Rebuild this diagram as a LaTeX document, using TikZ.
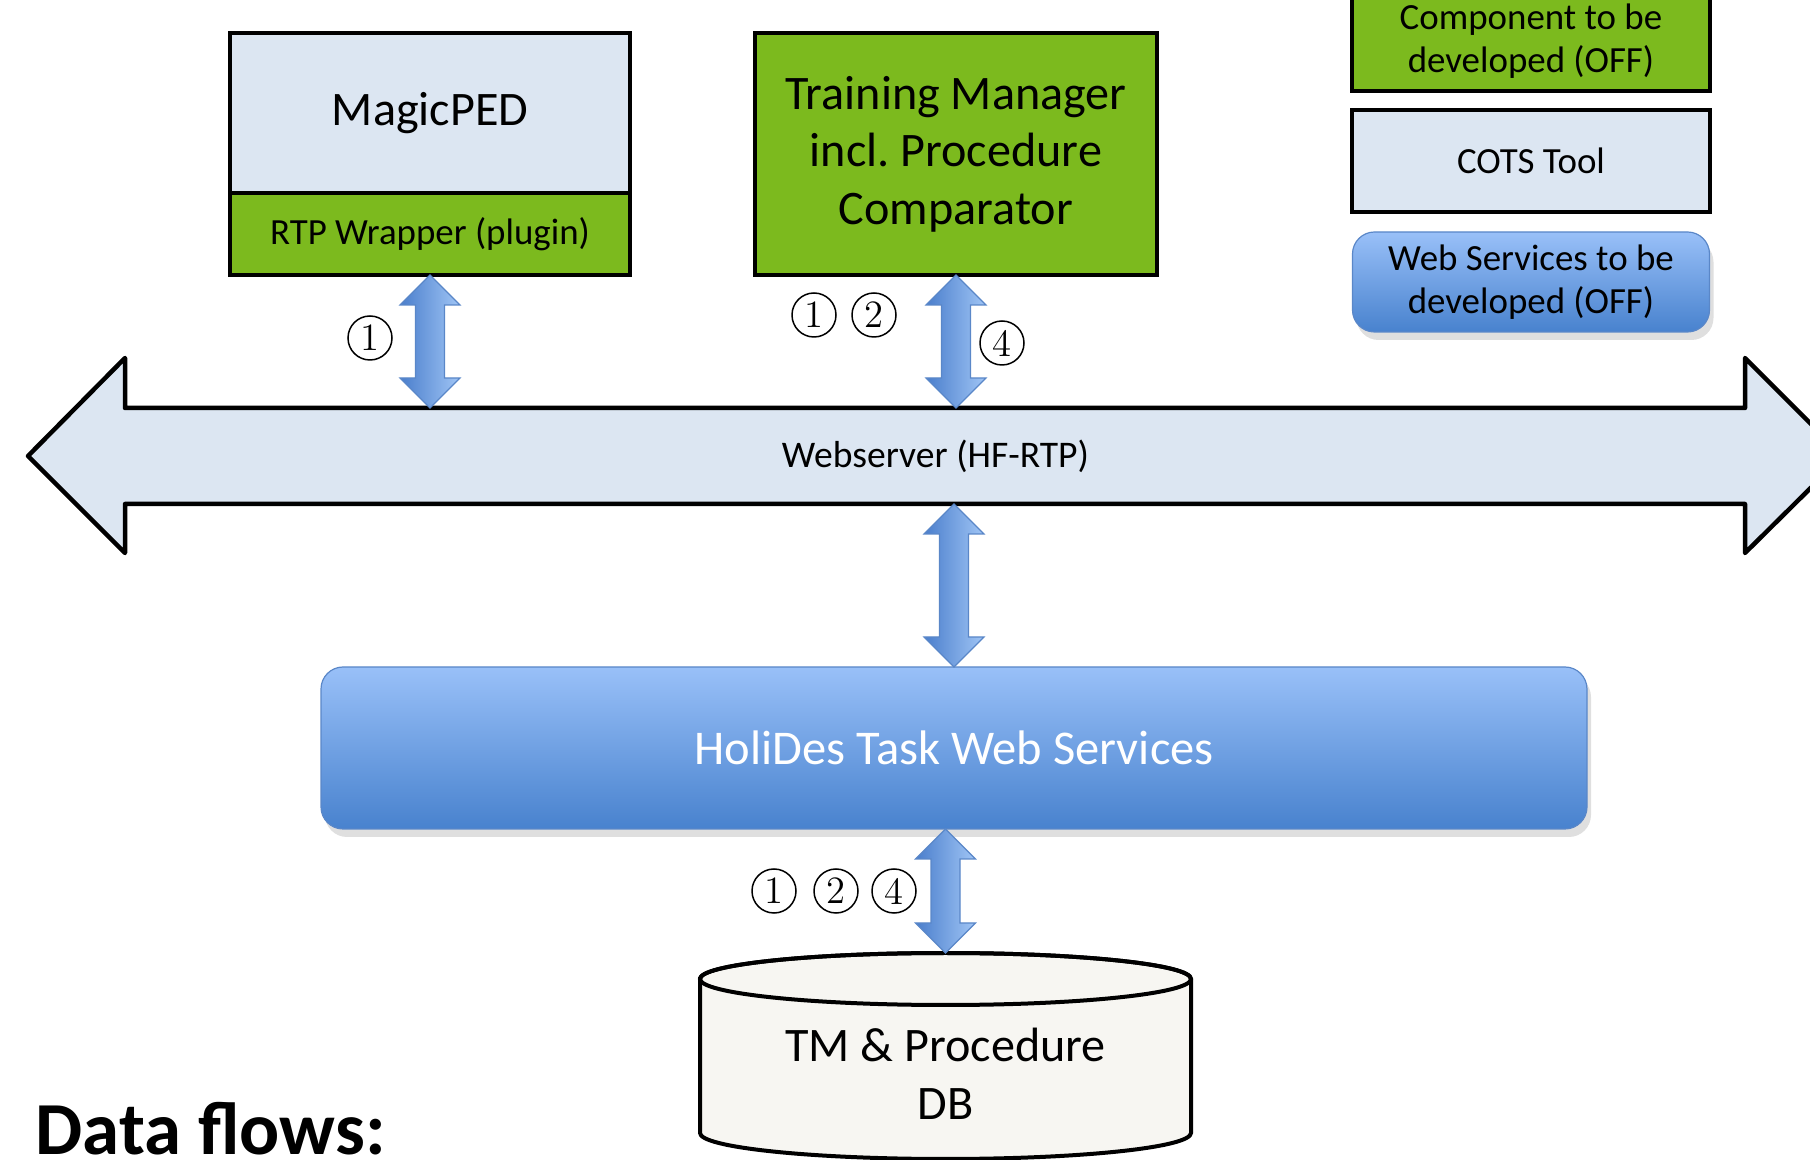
\documentclass[tikz,border=0pt]{standalone}
\usepackage{fontspec}
\newfontfamily\carl{Carlito}
\usetikzlibrary{calc, positioning, shadows}

\definecolor{cotsblue}{RGB}{220,230,242}
\definecolor{devgreen}{RGB}{124,186,30}
\definecolor{servtop}{RGB}{153,192,248}
\definecolor{servbot}{RGB}{72,130,206}
\definecolor{servline}{RGB}{90,135,200}
\definecolor{arrdark}{RGB}{74,126,204}
\definecolor{arrlight}{RGB}{160,197,245}
\definecolor{dbfill}{RGB}{247,246,242}

\newcommand{\legfont}{\carl\fontsize{10.5}{12.3}\selectfont}
\newcommand{\bigfont}{\carl\fontsize{13.7}{16.4}\selectfont}

\tikzset{
  box/.style={draw=black, line width=0.4mm, outer sep=0pt, inner sep=0pt, align=center, font=\legfont},
  cotsbox/.style={box, fill=cotsblue},
  devbox/.style={box, fill=devgreen},
  servbox/.style={rounded corners=2.2mm, top color=servtop, bottom color=servbot, draw=servline,
    line width=0.12mm, outer sep=0pt, inner sep=0pt, align=center, font=\legfont,
    drop shadow={opacity=0.25, shadow xshift=0.4mm, shadow yshift=-0.8mm}},
  flowarrow/.style={draw=servline, line width=0.12mm, left color=arrdark, right color=arrlight},
  flownum/.style={circle, draw, line width=0.15mm, minimum size=4.4mm, inner sep=0pt,
    font=\fontsize{11}{11}\selectfont},
}

% fat double arrow from #1 (top) down to #2
\newcommand{\flowarr}[2]{%
  \path[flowarrow] let \p1=(#1), \p2=(#2) in
    (\x1,\y1) -- (\x1+3mm,\y1-3mm) -- (\x1+1.45mm,\y1-3mm) -- (\x1+1.45mm,\y2+3mm)
    -- (\x1+3mm,\y2+3mm) -- (\x1,\y2) -- (\x1-3mm,\y2+3mm) -- (\x1-1.45mm,\y2+3mm)
    -- (\x1-1.45mm,\y1-3mm) -- (\x1-3mm,\y1-3mm) -- cycle;}

\begin{document}
\begin{tikzpicture}[x=0.1mm, y=-0.1mm]
    \clip (0,0) rectangle (1810,1160);

    % Tools
    \node[cotsbox, minimum width=40mm, minimum height=16mm, font=\bigfont] (magic) at (430,113) {MagicPED};
    \node[devbox, minimum width=40mm, minimum height=8.2mm, below=0pt of magic] (wrap) {RTP Wrapper (plugin)};
    \node[devbox, minimum width=40.2mm, minimum height=24.2mm, font=\bigfont] (tm) at (956,154)
        {Training Manager\\incl.\ Procedure\\Comparator};

    % Legend
    \node[devbox, minimum width=35.8mm, minimum height=10mm] (legdev) at (1531,41) {Component to be\\developed (OFF)};
    \node[cotsbox, minimum width=35.8mm, minimum height=10.2mm, below=1.9mm of legdev] (legcots) {COTS Tool};
    \node[servbox, minimum width=35.7mm, minimum height=10mm, below=2mm of legcots] (legws) {Web Services to be\\developed (OFF)};

    % Webserver bus
    \draw[fill=cotsblue, line width=0.45mm, line join=round]
        (28,456) -- (125,358) -- (125,408) -- (1745,408) -- (1745,358) -- (1843,456)
        -- (1745,553) -- (1745,504) -- (125,504) -- (125,553) -- cycle;
    \node[minimum width=162mm, minimum height=9.6mm, inner sep=0pt, outer sep=0pt,
        font=\carl\fontsize{10.7}{12.3}\selectfont] (ws) at (935.5,456) {Webserver (HF-RTP)};

    % Task web services and DB
    \node[servbox, minimum width=126.6mm, minimum height=16.2mm, text=white,
        font=\carl\fontsize{13.8}{16}\selectfont] (hol) at (954,748) {HoliDes Task Web Services};

    \draw[fill=dbfill, line width=0.4mm] (700,979) -- (700,1133)
        arc[start angle=180, end angle=360, x radius=24.55mm, y radius=2.6mm] -- (1191,979)
        arc[start angle=0, end angle=180, x radius=24.55mm, y radius=2.6mm] -- cycle;
    \draw[line width=0.4mm] (945.5,979) ellipse[x radius=24.55mm, y radius=2.6mm];
    \coordinate (dbtop) at (945.5,953);
    \node[align=center, font=\carl\fontsize{13.7}{16.4}\selectfont] (db) at (945.5,1074) {TM \& Procedure\\DB};

    % Data flows
    \flowarr{wrap.south}{wrap.south |- ws.north}
    \flowarr{tm.south}{tm.south |- ws.north}
    \flowarr{hol.north |- ws.south}{hol.north}
    \flowarr{hol.south -| dbtop}{dbtop}

    \node[flownum] (n1) at (370,338) {1};
    \node[flownum] (t1) at (814,315) {1};
    \node[flownum] (t2) at (874,315) {2};
    \node[flownum] (t4) at (1002,343) {4};
    \node[flownum] (d1) at (774,891) {1};
    \node[flownum] (d2) at (836,891) {2};
    \node[flownum] (d4) at (894,891) {4};

    \node[anchor=base west, inner sep=0pt, font=\carl\bfseries\fontsize{21.3}{25}\selectfont] (flows) at (35,1155) {Data flows:};

\end{tikzpicture}
\end{document}
